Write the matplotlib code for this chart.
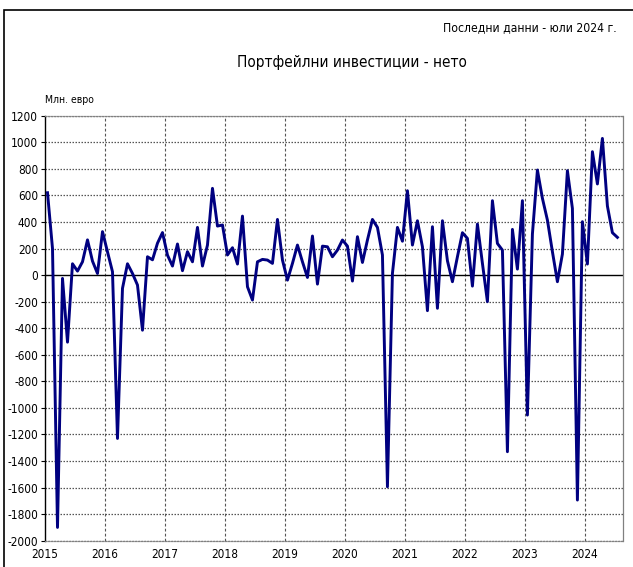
import numpy as np
import matplotlib.pyplot as plt
from matplotlib.patches import Rectangle

# Портфейлни инвестиции - нето, млн. евро, месечни данни 01.2015 - 07.2024
start_year = 2015
values = [
    620, 200, -1900, -25, -505, 85, 30, 100, 265, 105, 12, 327,      # 2015
    175, 25, -1230, -100, 85, 12, -75, -415, 138, 115, 240, 320,     # 2016
    150, 68, 234, 33, 176, 100, 359, 68, 226, 653, 369, 377,         # 2017
    151, 206, 83, 444, -88, -188, 100, 118, 113, 88, 419, 113,       # 2018
    -38, 88, 226, 100, -18, 294, -68, 218, 213, 138, 188, 264,       # 2019
    218, -45, 289, 95, 264, 419, 359, 151, -1594, 13, 359, 255,      # 2020
    635, 226, 409, 213, -268, 364, -250, 409, 108, -50, 138, 319,    # 2021
    276, -83, 384, 88, -200, 560, 238, 188, -1330, 344, 45, 560,     # 2022
    -1054, 309, 791, 578, 414, 176, -50, 158, 786, 502, -1694, 402,  # 2023
    83, 929, 686, 1029, 520, 319, 284,                               # 2024
]
year_labels = [str(y) for y in range(2015, 2025)]
y_ticks = list(range(-2000, 1201, 200))

plt.rcParams['font.family'] = ['DejaVu Sans']
plt.rcParams['font.stretch'] = 'condensed'

x = start_year + (np.arange(len(values)) + 0.5) / 12

fig = plt.figure(figsize=(6.33, 5.67), dpi=100)
ax = fig.add_axes([45 / 633, 1 - 540.7 / 567, 577.7 / 633, 425 / 567])

# рамка около графиката
fig.patches.append(Rectangle((4 / 633, -0.1), 1.2, 1.1 - 10 / 567,
                             transform=fig.transFigure, fill=False,
                             edgecolor='black', linewidth=1.2))

for yv in y_ticks:
    if yv != 0:
        ax.axhline(yv, color='#555555', linestyle=(0, (1.2, 1.2)), linewidth=0.9, zorder=1)
for yr in range(2016, 2025):
    ax.axvline(yr, color='#555555', linestyle=(0, (2.5, 2)), linewidth=0.8, zorder=1)
ax.axhline(0, color='black', linewidth=1.0, zorder=2)

ax.plot(x, values, color='#000080', linewidth=2.1, zorder=3)

ax.set_xlim(2015, 2024.63)
ax.set_ylim(-2000, 1200)
ax.set_yticks(y_ticks)
ax.set_yticklabels([str(v) for v in y_ticks], fontsize=8.5)
ax.set_xticks(range(2015, 2025))
ax.set_xticklabels(year_labels, fontsize=8.5)
ax.tick_params(axis='y', length=3, width=0.8, pad=2)
ax.tick_params(axis='x', length=0, pad=5)

ax.spines['left'].set_color('black')
ax.spines['left'].set_linewidth(1.0)
for s in ['top', 'bottom', 'right']:
    ax.spines[s].set_color('#808080')
    ax.spines[s].set_linewidth(0.9)
ax.spines['top'].set_linestyle((0, (1.2, 1.2)))
ax.spines['bottom'].set_linestyle((0, (1.2, 1.2)))

fig.text(617 / 633, 1 - 28 / 567, 'Последни данни - юли 2024 г.',
         ha='right', va='center', fontsize=8.7)
fig.text(352 / 633, 1 - 62 / 567, 'Портфейлни инвестиции - нето',
         ha='center', va='center', fontsize=11)
fig.text(45 / 633, 1 - 100 / 567, 'Млн. евро', ha='left', va='center', fontsize=7.5)

fig.savefig('out.png', dpi=100)
